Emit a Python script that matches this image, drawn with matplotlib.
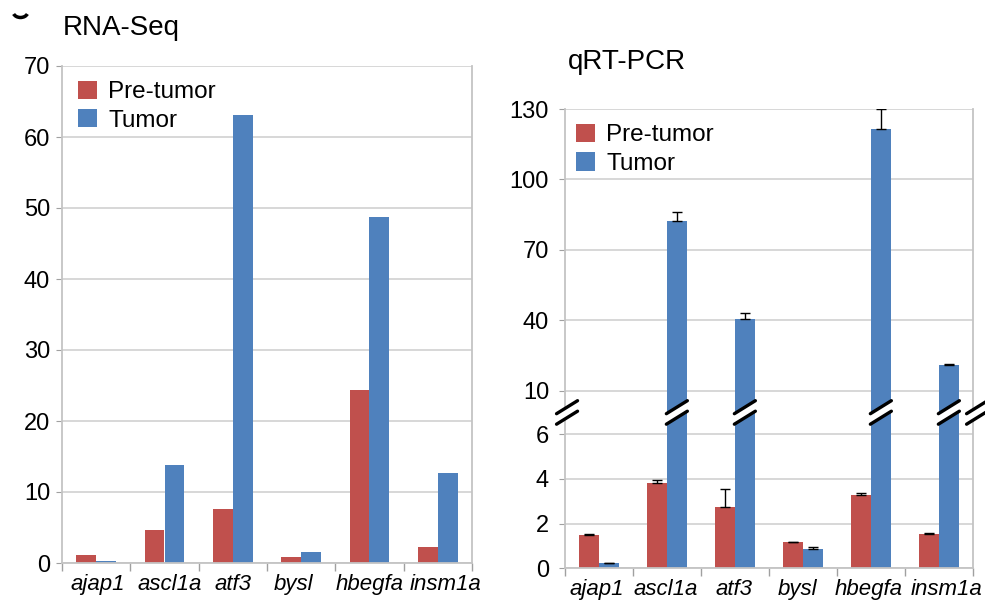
import numpy as np
import matplotlib
matplotlib.use('Agg')
import matplotlib.pyplot as plt
from matplotlib.patches import Polygon, Arc
from matplotlib.transforms import ScaledTranslation

plt.rcParams['font.family'] = ['Liberation Sans', 'DejaVu Sans']

genes = ['ajap1', 'ascl1a', 'atf3', 'bysl', 'hbegfa', 'insm1a']

# RNA-Seq values
rna_pre = [1.1, 4.65, 7.65, 0.9, 24.3, 2.3]
rna_tumor = [0.25, 13.8, 63.1, 1.5, 48.7, 12.7]

# qRT-PCR values and upper error bars
pcr_pre = [1.5, 3.84, 2.76, 1.16, 3.3, 1.55]
pcr_pre_err = [0.04, 0.12, 0.78, 0.02, 0.08, 0.05]
pcr_tumor = [0.22, 82.1, 40.6, 0.88, 121.6, 21.0]
pcr_tumor_err = [0.02, 4.0, 2.4, 0.09, 8.2, 0.2]

pcr_ticks = [0, 2, 4, 6, 10, 40, 70, 100, 130]

RED = '#C0504D'
BLUE = '#4F81BD'
GRID = '#d4d4d4'
FS = 16


def fwd(y):
    y = np.asarray(y, dtype=float)
    return np.where(y <= 6, y * 22.3,
                    np.where(y <= 10, 133.8 + (y - 6) * 10.9,
                             177.4 + (y - 10) * 2.343))


def inv(p):
    p = np.asarray(p, dtype=float)
    return np.where(p <= 133.8, p / 22.3,
                    np.where(p <= 177.4, 6 + (p - 133.8) / 10.9,
                             10 + (p - 177.4) / 2.343))


def style_axes(ax, ypad, label_shift):
    x = np.arange(len(genes))
    ax.set_xlim(-0.5, len(genes) - 0.5)
    ax.set_xticks(x)
    ax.set_xticklabels(genes, fontstyle='italic', fontsize=FS)
    ax.set_xticks(np.arange(len(genes) + 1) - 0.5, minor=True)
    ax.tick_params(axis='x', which='major', length=0, pad=8)
    ax.tick_params(axis='x', which='minor', length=6, color='#a0a0a0', width=1)
    ax.tick_params(axis='y', length=4, color='#a0a0a0', labelsize=17, pad=ypad)
    ax.grid(axis='y', color=GRID, lw=1.3)
    ax.set_axisbelow(True)
    for s in ax.spines.values():
        s.set_color('#c4c4c4')
        s.set_linewidth(1.3)
    ax.spines['top'].set_visible(False)
    # the gene names are not exactly centred in the original
    for lab, dx in zip(ax.get_xticklabels(), label_shift):
        lab.set_transform(lab.get_transform() + ScaledTranslation(dx / 100, 0, fig.dpi_scale_trans))


def add_legend(ax, x0, y0):
    ax.legend(loc='upper left', bbox_to_anchor=(x0, y0), frameon=False,
              fontsize=17.5, handlelength=0.78, handleheight=0.78,
              labelspacing=0.25, handletextpad=0.45, borderaxespad=0.3)


fig = plt.figure(figsize=(9.85, 6.03), dpi=100)
x = np.arange(len(genes))
w = 0.29

# ---- left: RNA-Seq
ax1 = fig.add_axes([62 / 985, 40 / 603, 410 / 985, 497 / 603])
ax1.bar(x - w / 2, rna_pre, w, color=RED, label='Pre-tumor')
ax1.bar(x + w / 2, rna_tumor, w, color=BLUE, label='Tumor')
ax1.set_ylim(0, 70)
ax1.set_yticks(range(0, 71, 10))
style_axes(ax1, 4.5, [1.5, 5, 0, -8, 0, 8])
add_legend(ax1, -0.002, 1.005)
fig.text(63 / 985, 1 - 35 / 603, 'RNA-Seq', fontsize=20, va='baseline')

# ---- right: qRT-PCR with broken axis
ax2 = fig.add_axes([565 / 985, 34.7 / 603, 408 / 985, 459.3 / 603])
ax2.set_yscale('function', functions=(fwd, inv))
ekw = dict(ecolor='black', elinewidth=1, capsize=3.5, capthick=1)
ax2.bar(x - w / 2, pcr_pre, w, color=RED, label='Pre-tumor',
        yerr=[np.zeros(len(genes)), pcr_pre_err], error_kw=ekw)
ax2.bar(x + w / 2, pcr_tumor, w, color=BLUE, label='Tumor',
        yerr=[np.zeros(len(genes)), pcr_tumor_err], error_kw=ekw)
ax2.set_ylim(0, 130)
ax2.set_yticks(pcr_ticks)
ax2.set_yticklabels([str(t) for t in pcr_ticks])
ax2.yaxis.set_minor_locator(matplotlib.ticker.NullLocator())
style_axes(ax2, 7.5, [-2, -1, -1, -6, -2, 8])
add_legend(ax2, -0.014, 1.005)
fig.text(568 / 985, 1 - 69 / 603, 'qRT-PCR', fontsize=20, va='baseline')

# break marks at y = 8
break_x = [-0.5 + 0.03] + [i + w / 2 for i, v in enumerate(pcr_tumor) if v > 10] + [len(genes) - 0.5 + 0.06]
pw = 0.105
ph = 0.065
gap = 0.0525
for bx in break_x:
    tr = fig.dpi_scale_trans + ScaledTranslation(bx, 8, ax2.transData)
    poly = Polygon([(-pw, -ph - gap), (pw, ph - gap), (pw, ph + gap), (-pw, -ph + gap)],
                   closed=True, facecolor='white', edgecolor='none',
                   transform=tr, clip_on=False, zorder=6)
    ax2.add_patch(poly)
    for off in (-gap, gap):
        ax2.plot([-pw, pw], [-ph + off, ph + off], color='black', lw=2.4,
                 solid_capstyle='round', transform=tr, clip_on=False, zorder=7)

# remnant of the cropped panel letter at top-left
fig.patches.append(Arc((0.205, 6.03 - 0.115), 0.15, 0.12, theta1=200, theta2=340,
                       lw=2.5, color='black', transform=fig.dpi_scale_trans))

fig.savefig('out.png', dpi=100)
